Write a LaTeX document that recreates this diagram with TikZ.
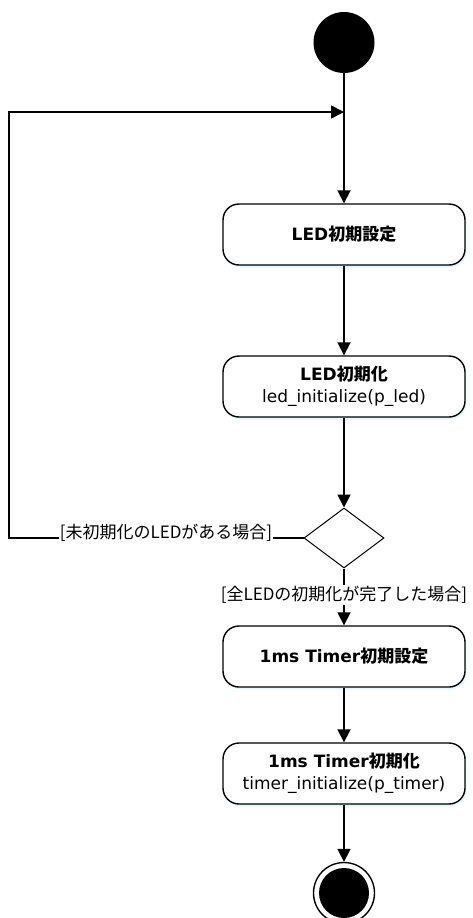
\documentclass[tikz,border=0pt]{standalone}
\usepackage{fontspec}
\setmainfont{DejaVu Sans}
\newfontfamily\jp{Noto Sans CJK JP}
\usetikzlibrary{arrows.meta,shapes.geometric,shadows}

\tikzset{
    act/.style={draw, line width=1.4pt, rounded corners=16pt, fill=white,
        minimum width=242pt, minimum height=61pt, align=center,
        font=\fontsize{17}{22}\selectfont,
        drop shadow={shadow xshift=1.5pt, shadow yshift=-2.5pt, fill=cyan!15, opacity=0.7}},
    flow/.style={line width=1.8pt, -{Triangle[length=13pt,width=13pt]}},
    guard/.style={fill=white, inner sep=1pt, font=\jp\fontsize{17}{20}\selectfont},
}

\begin{document}
\begin{tikzpicture}[x=1pt,y=-1pt]
        \useasboundingbox (0,0) rectangle (472,918);

        \node[circle, fill=black, minimum size=61pt, inner sep=0pt] (start) at (344,42.5) {};
        \coordinate (merge) at (344,112);

        \node[act] (ledset) at (344,234.5) {\bfseries LED{\jp 初期設定}};
        \node[act] (ledinit) at (344,386.5) {{\bfseries LED{\jp 初期化}}\\led\_initialize(p\_led)};

        \node[diamond, draw, line width=1pt, fill=white, minimum width=80pt, minimum height=60pt, inner sep=0pt] (choice) at (344,538) {};

        \node[act] (timerset) at (344,656.5) {\bfseries 1ms Timer{\jp 初期設定}};
        \node[act] (timerinit) at (344,773.5) {{\bfseries 1ms Timer{\jp 初期化}}\\timer\_initialize(p\_timer)};

        \node[circle, draw, line width=1.4pt, fill=white, minimum size=61pt, inner sep=0pt] (final) at (344,893) {};
        \fill (final.center) circle[radius=25pt];

        \draw[flow] (start) -- (ledset);
        \draw[flow] (ledset) -- (ledinit);
        \draw[flow] (ledinit) -- (choice);

        % back to the top
        \coordinate (back) at (9,538);
        \draw[flow] (choice.west) -- (back) |- (merge);
        \node[guard] (notdone) at (166,533) {[未初期化のLEDがある場合]};

        \draw[flow] (choice) -- (timerset);
        \node[guard] (done) at (344,595) {[全LEDの初期化が完了した場合]};

        \draw[flow] (timerset) -- (timerinit);
        \draw[flow] (timerinit) -- (final);
    \end{tikzpicture}
\end{document}
